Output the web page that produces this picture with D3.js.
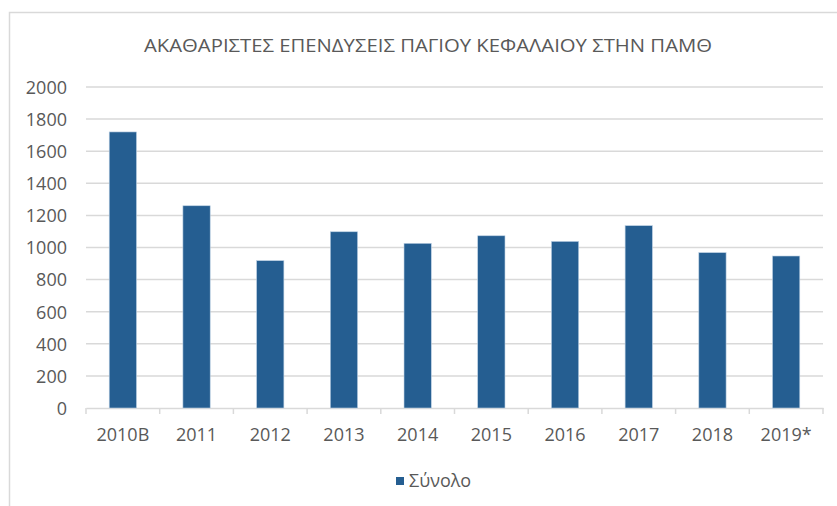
<!DOCTYPE html>
<html>
<head>
<meta charset="utf-8">
<script src="https://cdn.jsdelivr.net/npm/d3@7"></script>
<style>
  body { margin: 0; background: #fff; }
  text { font-family: "Open Sans", sans-serif; fill: #595959; }
</style>
</head>
<body>
<div id="graf"></div>
<script>
// datos
const categorias = ['2010B', '2011', '2012', '2013', '2014', '2015', '2016', '2017', '2018', '2019*']
const valores = [1720, 1260, 918, 1098, 1026, 1073, 1038, 1136, 968, 947]
const ticksY = [0, 200, 400, 600, 800, 1000, 1200, 1400, 1600, 1800, 2000]
const serie = 'Σύνολο'
const titulo = 'ΑΚΑΘΑΡΙΣΤΕΣ ΕΠΕΝΔΥΣΕΙΣ ΠΑΓΙΟΥ ΚΕΦΑΛΑΙΟΥ ΣΤΗΝ ΠΑΜΘ'

const ancho_total = 837, alto_total = 506
const margins = { top: 87, left: 86, right: 14, bottom: 98 }
const ancho = ancho_total - margins.left - margins.right
const alto = alto_total - margins.top - margins.bottom

const svg = d3.select('#graf').append('svg')
  .attr('width', ancho_total)
  .attr('height', alto_total)

// marco
svg.append('rect')
  .attr('x', 9.5).attr('y', 12.5)
  .attr('width', 840).attr('height', 520)
  .attr('fill', 'none')
  .attr('stroke', '#d9d9d9')
  .attr('stroke-width', 1.5)

// titulo
svg.append('text')
  .attr('x', 428).attr('y', 52)
  .attr('text-anchor', 'middle')
  .attr('font-size', '18px')
  .attr('textLength', 568)
  .attr('lengthAdjust', 'spacingAndGlyphs')
  .text(titulo)

const g = svg.append('g')
  .attr('transform', `translate(${margins.left}, ${margins.top})`)

// escalas
const y = d3.scaleLinear().domain([0, 2000]).range([alto, 0])
const x = d3.scaleBand().domain(categorias).range([0, ancho]).padding(0)
const anchoBarra = x.bandwidth() * 0.37

// lineas de la grilla
g.append('g')
  .selectAll('line')
  .data(ticksY.filter(d => d > 0))
  .join('line')
    .attr('x1', 0).attr('x2', ancho)
    .attr('y1', d => y(d)).attr('y2', d => y(d))
    .attr('stroke', '#d9d9d9')
    .attr('stroke-width', 1.5)

// eje y (solo etiquetas)
const yAxis = g.append('g')
  .attr('transform', 'translate(-19, 0)')
  .call(d3.axisLeft(y).tickValues(ticksY).tickFormat(d => d + '').tickSize(0).tickPadding(0))
yAxis.select('.domain').remove()
yAxis.selectAll('text')
  .attr('font-size', '18px')
  .attr('font-family', '"Open Sans", sans-serif')
  .attr('fill', '#595959')
  .attr('dy', '0.35em')

// eje x
const xAxis = g.append('g')
  .attr('transform', `translate(0, ${alto})`)
  .call(d3.axisBottom(x).tickSize(0).tickPadding(20))
xAxis.select('.domain')
  .attr('stroke', '#d9d9d9').attr('stroke-width', 1.5)
xAxis.selectAll('text')
  .attr('font-size', '18px')
  .attr('font-family', '"Open Sans", sans-serif')
  .attr('fill', '#595959')

// marcas entre categorias
const bordes = categorias.map(d => x(d)).concat([ancho])
g.append('g')
  .selectAll('line')
  .data(bordes)
  .join('line')
    .attr('x1', d => d).attr('x2', d => d)
    .attr('y1', alto).attr('y2', alto + 6)
    .attr('stroke', '#d9d9d9')
    .attr('stroke-width', 1.5)

// barras
g.append('g')
  .selectAll('rect')
  .data(valores)
  .join('rect')
    .attr('x', (d, i) => x(categorias[i]) + (x.bandwidth() - anchoBarra) / 2)
    .attr('y', d => y(d))
    .attr('width', anchoBarra)
    .attr('height', d => alto - y(d))
    .attr('fill', '#255e91')
    .attr('stroke', '#bcd0e3')
    .attr('stroke-width', 0.6)

// leyenda
const leyenda = svg.append('g').attr('transform', 'translate(396, 477)')
leyenda.append('rect')
  .attr('width', 8).attr('height', 8)
  .attr('fill', '#255e91')
leyenda.append('text')
  .attr('x', 13).attr('y', 10)
  .attr('font-size', '18px')
  .text(serie)
</script>
</body>
</html>
